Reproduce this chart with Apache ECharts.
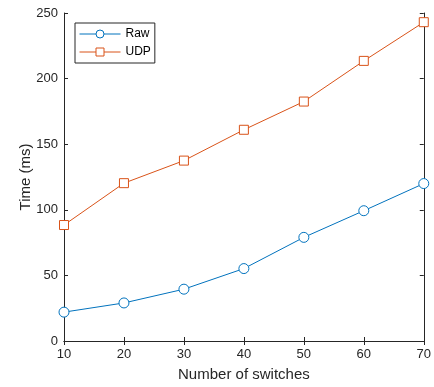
<!DOCTYPE html>
<html><head><meta charset="utf-8">
<script src="https://cdn.jsdelivr.net/npm/echarts@6/dist/echarts.min.js"></script>
<style>html,body{margin:0;padding:0;background:#fff}#c{width:434px;height:387px}</style>
</head><body><div id="c"></div>
<script>
const categories = [10, 20, 30, 40, 50, 60, 70];
const rawValues = [22, 29, 39.5, 55.2, 79, 99.3, 120];
const udpValues = [88.4, 120.3, 137.5, 161, 182.5, 213.5, 243];
const seriesNames = ['Raw', 'UDP'];
const xTitle = 'Number of switches';
const yTitle = 'Time (ms)';

const font = 'Liberation Sans, Arial, sans-serif';
const axisCol = '#262626';
const chart = echarts.init(document.getElementById('c'));
const xCommon = {type: 'value', min: 10, max: 70, interval: 10};
const yCommon = {type: 'value', min: 0, max: 250, interval: 50};
chart.setOption({
  animation: false,
  grid: {left: 64, right: 7, top: 13, bottom: 45},
  legend: {
    show: true, orient: 'vertical', left: 75, top: 23,
    data: seriesNames,
    itemWidth: 41, itemHeight: 10, itemGap: 6,
    padding: [5, 4, 5, 4],
    borderColor: axisCol, borderWidth: 1, backgroundColor: '#fff', borderRadius: 0,
    lineStyle: {width: 1},
    itemStyle: {borderWidth: 1},
    textStyle: {fontFamily: font, fontSize: 12, color: '#000'}
  },
  xAxis: [
    Object.assign({}, xCommon, {
      position: 'bottom', name: xTitle, nameLocation: 'middle', nameGap: 26,
      nameMoveOverlap: false,
      nameTextStyle: {fontFamily: font, fontSize: 15, color: axisCol},
      axisLine: {show: true, lineStyle: {color: axisCol, width: 1}},
      axisTick: {show: true, inside: true, length: 4, lineStyle: {color: axisCol}},
      axisLabel: {fontFamily: font, fontSize: 13, color: axisCol, margin: 7},
      splitLine: {show: false}
    }),
    Object.assign({}, xCommon, {
      position: 'top',
      axisLine: {show: true, lineStyle: {color: axisCol, width: 1}},
      axisTick: {show: true, inside: true, length: 4, lineStyle: {color: axisCol}},
      axisLabel: {show: false}, splitLine: {show: false}
    })
  ],
  yAxis: [
    Object.assign({}, yCommon, {
      position: 'left', name: yTitle, nameLocation: 'middle', nameGap: 31,
      nameMoveOverlap: false,
      nameTextStyle: {fontFamily: font, fontSize: 15, color: axisCol},
      axisLine: {show: true, lineStyle: {color: axisCol, width: 1}},
      axisTick: {show: true, inside: true, length: 4, lineStyle: {color: axisCol}},
      axisLabel: {fontFamily: font, fontSize: 13, color: axisCol, margin: 6},
      splitLine: {show: false}
    }),
    Object.assign({}, yCommon, {
      position: 'right',
      axisLine: {show: true, lineStyle: {color: axisCol, width: 1}},
      axisTick: {show: true, inside: true, length: 4, lineStyle: {color: axisCol}},
      axisLabel: {show: false}, splitLine: {show: false}
    })
  ],
  series: [
    {
      name: seriesNames[0], type: 'line',
      data: categories.map((c, i) => [c, rawValues[i]]),
      symbol: 'circle', symbolSize: 10,
      itemStyle: {color: '#fff', borderColor: '#0072BD', borderWidth: 1},
      lineStyle: {color: '#0072BD', width: 1}
    },
    {
      name: seriesNames[1], type: 'line',
      data: categories.map((c, i) => [c, udpValues[i]]),
      symbol: 'rect', symbolSize: 9,
      itemStyle: {color: '#fff', borderColor: '#D95319', borderWidth: 1},
      lineStyle: {color: '#D95319', width: 1}
    }
  ]
});
</script></body></html>
